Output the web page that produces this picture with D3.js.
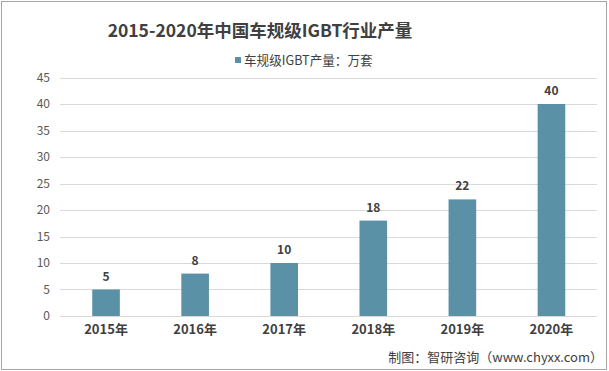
<!DOCTYPE html>
<html><head><meta charset="utf-8">
<script src="https://cdn.jsdelivr.net/npm/d3@7"></script>
<style>body{margin:0;background:#fff}svg{display:block}</style>
</head><body>
<svg id="c" width="609" height="371"></svg>
<script>
const categories = ["2015年","2016年","2017年","2018年","2019年","2020年"];
const values = [5, 8, 10, 18, 22, 40];
const yTicks = [0,5,10,15,20,25,30,35,40,45];
const title = "2015-2020年中国车规级IGBT行业产量";
const legendLabel = "车规级IGBT产量：万套";
const source = "制图：智研咨询（www.chyxx.com）";

const svg = d3.select("#c");
const font = "'Noto Sans CJK SC','Microsoft YaHei',sans-serif";
svg.append("rect").attr("x",1.5).attr("y",1.5).attr("width",605).attr("height",368)
  .attr("fill","#fff").attr("stroke","#a6a6a6").attr("stroke-width",1);

const x = d3.scaleBand().domain(categories).range([61.5,596]).paddingInner(0.69).paddingOuter(0.345);
const y = d3.scaleLinear().domain([0,45]).range([316,77.5]);

const grid = svg.append("g");
grid.selectAll("line").data(yTicks).join("line")
  .attr("x1",60).attr("x2",597).attr("y1",d=>Math.round(y(d))+0.5).attr("y2",d=>Math.round(y(d))+0.5)
  .attr("stroke","#d9d9d9").attr("stroke-width",1);

const yAxis = d3.axisLeft(y).tickValues(yTicks).tickSize(0).tickPadding(0);
const ya = svg.append("g").attr("transform","translate(50,0)").call(yAxis);
ya.select(".domain").remove();
ya.selectAll("text").attr("font-family",font).attr("font-size",12).attr("fill","#595959");

svg.append("g").selectAll("rect").data(values).join("rect")
  .attr("x",(d,i)=>x(categories[i])).attr("width",x.bandwidth())
  .attr("y",d=>y(d)).attr("height",d=>y(0)-y(d)).attr("fill","#5b91a7");

svg.append("g").selectAll("text").data(values).join("text")
  .attr("x",(d,i)=>x(categories[i])+x.bandwidth()/2).attr("y",d=>y(d)-9)
  .attr("text-anchor","middle").attr("font-family",font).attr("font-size",12)
  .attr("font-weight","bold").attr("fill","#404040").text(d=>d);

const xAxis = d3.axisBottom(x).tickSize(0).tickPadding(0);
const xa = svg.append("g").attr("transform","translate(0,325)").call(xAxis);
xa.select(".domain").remove();
xa.selectAll("text").attr("font-family",font).attr("font-size",13).attr("font-weight","bold").attr("fill","#404040");

svg.append("text").attr("x",260).attr("y",37).attr("text-anchor","middle")
  .attr("font-family",font).attr("font-size",17.5).attr("font-weight","bold").attr("fill","#404040").text(title);

svg.append("rect").attr("x",235).attr("y",57).attr("width",6).attr("height",6).attr("fill","#5b91a7");
svg.append("text").attr("x",244).attr("y",65).attr("font-family",font).attr("font-size",12.6).attr("fill","#404040").text(legendLabel);

svg.append("text").attr("x",603).attr("y",362).attr("text-anchor","end")
  .attr("font-family",font).attr("font-size",13).attr("fill","#404040").text(source);
</script>
</body></html>
